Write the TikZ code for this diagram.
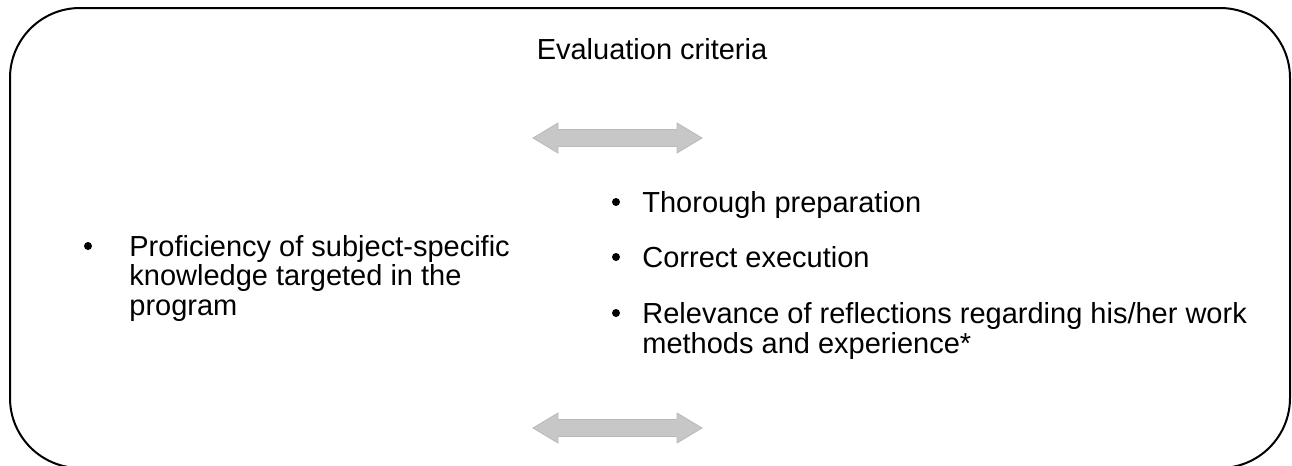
\documentclass[tikz,border=0pt]{standalone}
\usepackage{fontspec}
\setmainfont{Liberation Sans}
\begin{document}
\begin{tikzpicture}[x=0.5pt,y=-0.5pt,
  txt/.style={inner sep=0pt, anchor=base west, align=left, font=\fontsize{14.5}{14.75}\selectfont},
  bul/.style={circle, fill, inner sep=0pt, minimum size=4pt},
  arrowfill/.style={fill=black!22, draw=black!27, line width=0.4pt}]
\useasboundingbox (0,0) rectangle (1292,466);
\draw[line width=1pt, rounded corners=35pt] (10,8) rectangle (1290,468);
\node[txt, anchor=base] (crit) at (652,60) {Evaluation criteria};
\foreach \y in {138,428}
  \draw[arrowfill] (533,\y) -- (558,\y-15) -- (558,\y-8.5) -- (677,\y-8.5) -- (677,\y-15)
    -- (702,\y) -- (677,\y+15) -- (677,\y+8.5) -- (558,\y+8.5) -- (558,\y+15) -- cycle;
\node[bul] (lb0) at (88,246) {};
\node[txt] (lt0) at (129,315) {Proficiency of subject-specific\\knowledge targeted in the\\program};
\node[bul] (rb0) at (616,202) {};
\node[txt] (rt0) at (642,212) {Thorough preparation};
\node[bul] (rb1) at (616,257) {};
\node[txt] (rt1) at (642,267) {Correct execution};
\node[bul] (rb2) at (616,313) {};
\node[txt] (rt2) at (642,353) {Relevance of reflections regarding his/her work\\methods and experience*};
\end{tikzpicture}
\end{document}
